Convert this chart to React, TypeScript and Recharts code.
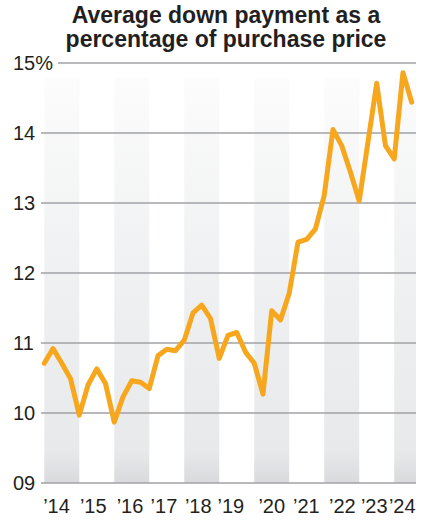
import React from "react";
import {
  LineChart,
  Line,
  XAxis,
  YAxis,
  ReferenceArea,
  ReferenceLine,
} from "recharts";

// ---- data ----
const startYear = 2014;
const downPaymentPct = [
  10.71, 10.92, 10.71, 10.49, 9.97, 10.4, 10.63, 10.42, 9.87, 10.23, 10.46,
  10.44, 10.35, 10.82, 10.91, 10.89, 11.04, 11.43, 11.54, 11.35, 10.78, 11.11,
  11.15, 10.87, 10.71, 10.27, 11.46, 11.33, 11.71, 12.44, 12.48, 12.63, 13.11,
  14.05, 13.82, 13.44, 13.03, 13.87, 14.71, 13.82, 13.63, 14.86, 14.44,
];
const bandYears = [2014, 2016, 2018, 2020, 2022, 2024];
const yTicks = [9, 10, 11, 12, 13, 14, 15];
const yTickLabels = ["09", "10", "11", "12", "13", "14", "15%"];
const xTickValues = [
  2014.35, 2015.4, 2016.45, 2017.42, 2018.4, 2019.33, 2020.5, 2021.49, 2022.52,
  2023.43, 2024.23,
];
const xTickLabels = [
  "\u201914", "\u201915", "\u201916", "\u201917", "\u201918", "\u201919",
  "\u201920", "\u201921", "\u201922", "\u201923", "\u201924",
];
const xDomain: [number, number] = [2013.906, 2024.623];
const yDomain: [number, number] = [9, 15];
const bandTop = 14.785;

const chartData = downPaymentPct.map((v, i) => ({
  t: startYear + i / 4,
  v,
}));

// ---- styles ----
const FONT = "'Liberation Sans', Arial, Helvetica, sans-serif";
const TEXT = "#231f20";
const GRID = "#a2a2a6";
const ORANGE = "#f6a71e";
const PLOT_LEFT = 41;

const YTick = (props: any) => {
  const { y, payload } = props;
  const idx = yTicks.indexOf(payload.value);
  const label = idx >= 0 ? yTickLabels[idx] : String(payload.value);
  return (
    <g>
      {payload.value === 15 && (
        <rect x={PLOT_LEFT - 1} y={y - 2} width={18} height={4} fill="#fff" />
      )}
      <text
        x={13}
        y={y + 7}
        textAnchor="start"
        fontSize={20}
        fontFamily={FONT}
        fill={TEXT}
      >
        {label}
      </text>
    </g>
  );
};

const XTick = (props: any) => {
  const { x, payload } = props;
  const idx = xTickValues.indexOf(payload.value);
  const label = idx >= 0 ? xTickLabels[idx] : "";
  return (
    <text
      x={x}
      y={513}
      textAnchor="middle"
      fontSize={20}
      fontFamily={FONT}
      fill={TEXT}
    >
      {label}
    </text>
  );
};

export default function App() {
  return (
    <div
      style={{
        position: "absolute",
        left: 0,
        top: 0,
        width: 427,
        height: 528,
        background: "#fff",
        overflow: "hidden",
      }}
    >
      <div
        style={{
          position: "absolute",
          left: 26,
          top: 3,
          width: 400,
          textAlign: "center",
          fontFamily: FONT,
          fontWeight: "bold",
          fontSize: 23,
          lineHeight: "24px",
          color: TEXT,
          whiteSpace: "nowrap",
        }}
      >
        Average down payment as a
        <br />
        percentage of purchase price
      </div>
      <LineChart
        width={427}
        height={528}
        data={chartData}
        margin={{ top: 63, right: 11, bottom: 0, left: 0 }}
      >
        <defs>
          <linearGradient id="bandGrad" x1="0" y1="0" x2="0" y2="1">
            <stop offset="0" stopColor="#fcfcfc" />
            <stop offset="0.45" stopColor="#f0f1f2" />
            <stop offset="0.92" stopColor="#e8e9eb" />
            <stop offset="1" stopColor="#d9dadd" />
          </linearGradient>
        </defs>
        {bandYears.map((yr) => (
          <ReferenceArea
            key={yr}
            x1={Math.max(yr, xDomain[0])}
            x2={Math.min(yr + 1, xDomain[1])}
            y1={yDomain[0]}
            y2={bandTop}
            fill="url(#bandGrad)"
            fillOpacity={1}
            stroke="none"
            ifOverflow="hidden"
          />
        ))}
        {yTicks.map((t) => (
          <ReferenceLine
            key={t}
            y={t}
            stroke={GRID}
            strokeWidth={1.6}
          />
        ))}
        <Line
          type="linear"
          dataKey="v"
          stroke={ORANGE}
          strokeWidth={5}
          strokeLinejoin="round"
          strokeLinecap="round"
          dot={false}
          activeDot={false}
          isAnimationActive={false}
        />
        <XAxis
          dataKey="t"
          type="number"
          domain={xDomain}
          ticks={xTickValues}
          allowDataOverflow
          axisLine={false}
          tickLine={false}
          height={45}
          tick={<XTick />}
          interval={0}
        />
        <YAxis
          type="number"
          domain={yDomain}
          ticks={yTicks}
          allowDataOverflow
          axisLine={false}
          tickLine={false}
          width={41}
          tick={<YTick />}
          interval={0}
        />
      </LineChart>
    </div>
  );
}
